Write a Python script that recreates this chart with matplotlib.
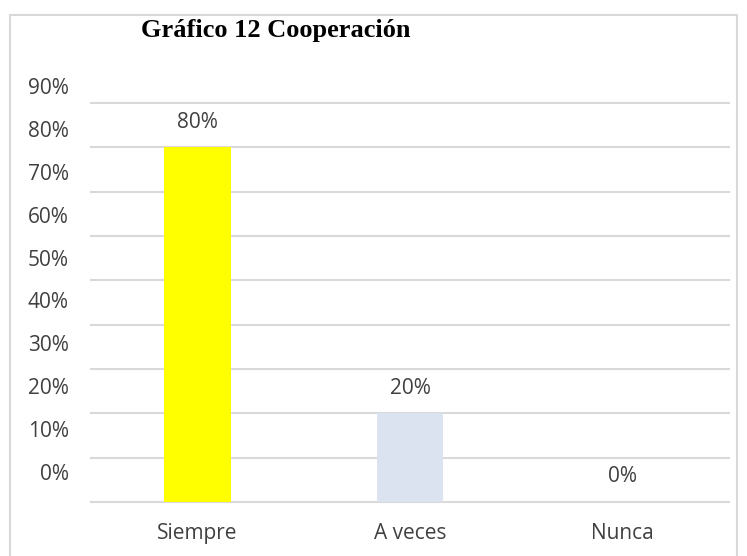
import matplotlib
matplotlib.use("Agg")
import matplotlib.pyplot as plt
from matplotlib.patches import Rectangle

categories = ["Siempre", "A veces", "Nunca"]
values = [0.80, 0.20, 0.00]
bar_colors = ["#FFFF00", "#DCE3F0", "#DCE3F0"]
ytick_vals = [0.0, 0.1, 0.2, 0.3, 0.4, 0.5, 0.6, 0.7, 0.8, 0.9]
ytick_labels = ["0%", "10%", "20%", "30%", "40%", "50%", "60%", "70%", "80%", "90%"]
title = "Gráfico 12 Cooperación"

W, H = 747, 556
fig = plt.figure(figsize=(W / 100, H / 100), dpi=100)
txt_color = "#404040"
grid_color = "#D9D9D9"
font = "Open Sans"
fs = 15

# chart border
fig.patches.append(Rectangle((10 / W, -0.05), 727 / W, 1.05 - 15 / H, transform=fig.transFigure,
                             fill=False, edgecolor="#D9D9D9", linewidth=1.5))

ax = fig.add_axes([91 / W, 1 - 502 / H, 638 / W, 399 / H])
ax.set_xlim(-0.5, 2.5)
ax.set_ylim(0, 0.9)
for v in ytick_vals:
    ax.axhline(v, color=grid_color, linewidth=1.5, zorder=0, clip_on=False)
x = list(range(len(categories)))
ax.bar(x, values, width=0.315, color=bar_colors, zorder=2)
for xi, v in zip(x, values):
    ax.annotate(f"{v:.0%}", (xi, v), xytext=(0, 18), textcoords="offset points",
                ha="center", va="center", fontsize=fs, color=txt_color, family=font)
ax.set_xticks(x)
ax.set_xticklabels(categories, fontsize=fs, color=txt_color, family=font)
ax.tick_params(axis="x", length=0, pad=15)
ax.set_yticks([])
for s in ax.spines.values():
    s.set_visible(False)

# y labels (positioned as in the reference)
lab = fig.add_axes([91 / W, 1 - 472 / H, 638 / W, 386 / H])
lab.patch.set_visible(False)
lab.set_ylim(0, 0.9)
lab.set_yticks(ytick_vals)
lab.set_yticklabels(ytick_labels, fontsize=fs, color=txt_color, family=font)
lab.tick_params(axis="y", length=0, pad=16)
lab.set_xticks([])
for s in lab.spines.values():
    s.set_visible(False)

fig.text(276 / W, 1 - 31 / H, title, ha="center", va="center", fontsize=19,
         fontweight="bold", family="Liberation Serif", color="black")

fig.savefig("out.png", dpi=100)
